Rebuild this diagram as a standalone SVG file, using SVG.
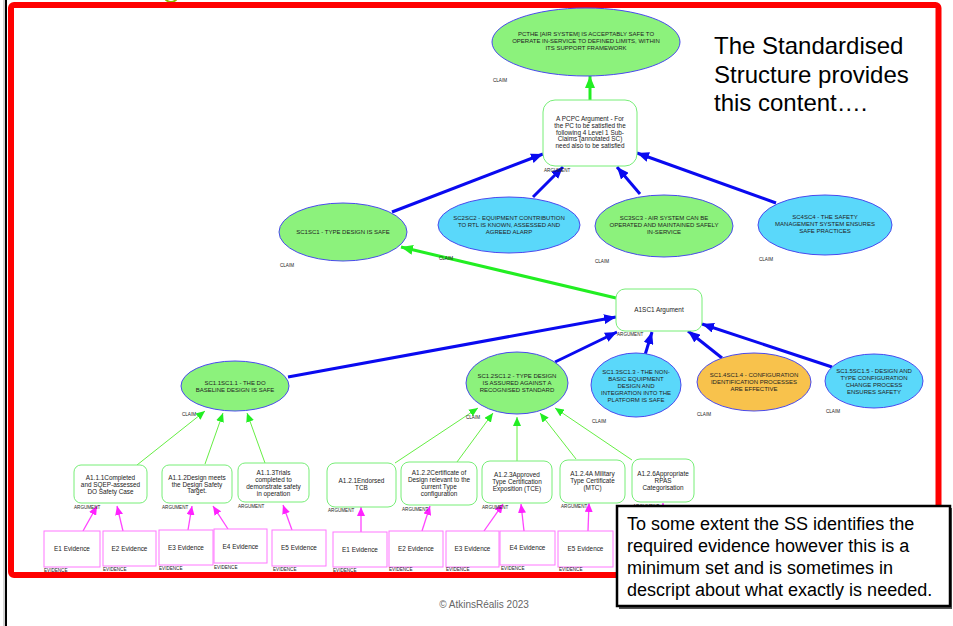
<svg xmlns="http://www.w3.org/2000/svg" width="953" height="626" viewBox="0 0 953 626">
  <defs>
    <style>
      .claim-g { fill: #8cf27c; stroke: #4a4aee; stroke-width: 1; }
      .claim-b { fill: #5ad8fa; stroke: #4a4aee; stroke-width: 1; }
      .claim-o { fill: #f8c24c; stroke: #4a4aee; stroke-width: 1; }
      .arg { fill: #ffffff; stroke: #77ee77; stroke-width: 1; }
      .ev { fill: #ffffff; stroke: #ff77ff; stroke-width: 1; }
      .t { font-family: "Liberation Sans", Arial, sans-serif; font-size: 6px; fill: #222; text-anchor: middle; }
      .ta { font-family: "Liberation Sans", Arial, sans-serif; font-size: 6.4px; fill: #222; text-anchor: middle; }
      .lbl { font-family: "Liberation Sans", Arial, sans-serif; font-size: 4.6px; fill: #222; }
      .big { font-family: "Liberation Sans", Arial, sans-serif; font-size: 24px; fill: #000; }
      .note { font-family: "Liberation Sans", Arial, sans-serif; font-size: 18px; fill: #000; }
      .blue { stroke: #0a0af0; stroke-width: 3; fill: none; marker-end: url(#hBlue); }
      .green { stroke: #22ee22; stroke-width: 3; fill: none; marker-end: url(#hGreen); }
      .gthin { stroke: #66ee44; stroke-width: 1; fill: none; marker-end: url(#hGreenThin); }
      .mag { stroke: #ff44ff; stroke-width: 1.3; fill: none; marker-end: url(#hMag); }
    </style>
    <marker id="hBlue" markerUnits="userSpaceOnUse" markerWidth="12" markerHeight="10" refX="12" refY="5" orient="auto">
      <path d="M0,0 L12,5 L0,10 z" fill="#0a0af0"/>
    </marker>
    <marker id="hGreen" markerUnits="userSpaceOnUse" markerWidth="12" markerHeight="10" refX="12" refY="5" orient="auto">
      <path d="M0,0 L12,5 L0,10 z" fill="#22ee22"/>
    </marker>
    <marker id="hGreenThin" markerUnits="userSpaceOnUse" markerWidth="9" markerHeight="8" refX="9" refY="4" orient="auto">
      <path d="M0,0 L9,4 L0,8 z" fill="#22ee22"/>
    </marker>
    <marker id="hMag" markerUnits="userSpaceOnUse" markerWidth="9" markerHeight="8" refX="9" refY="4" orient="auto">
      <path d="M0,0 L9,4 L0,8 z" fill="#ff22ff"/>
    </marker>
  </defs>

  <rect x="0" y="0" width="953" height="626" fill="#ffffff"/>

  <!-- slide edge and frame -->
  <line x1="4" y1="0" x2="4" y2="626" stroke="#aaaaaa" stroke-width="1"/>
  <line x1="6" y1="0" x2="6" y2="626" stroke="#000000" stroke-width="2"/>
  <ellipse cx="171" cy="-3" rx="6" ry="5" fill="none" stroke="#8db600" stroke-width="2"/>
  <rect x="11" y="5" width="927.5" height="570" rx="3" fill="none" stroke="#ff0000" stroke-width="6"/>

  <text class="big" x="714" y="54">The Standardised</text>
  <text class="big" x="714" y="83">Structure provides</text>
  <text class="big" x="714" y="111">this content….</text>

  <!-- connectors -->
  <g id="connectors">
    <line class="green" x1="590" y1="100" x2="590" y2="76"/>
    <line class="blue" x1="392" y1="212" x2="543" y2="154"/>
    <line class="blue" x1="533" y1="197" x2="563" y2="167"/>
    <line class="blue" x1="640" y1="194" x2="617" y2="167"/>
    <line class="blue" x1="776" y1="203" x2="637" y2="153"/>
    <line class="green" x1="616" y1="298" x2="401" y2="247"/>
    <line class="blue" x1="288" y1="377" x2="616" y2="317"/>
    <line class="blue" x1="555" y1="362" x2="617" y2="332"/>
    <line class="blue" x1="645" y1="355" x2="652" y2="332"/>
    <line class="blue" x1="722" y1="358" x2="688" y2="331"/>
    <line class="blue" x1="832" y1="367" x2="702" y2="324"/>
    <line class="gthin" x1="137" y1="465" x2="205" y2="411"/>
    <line class="gthin" x1="205" y1="464" x2="223" y2="413"/>
    <line class="gthin" x1="265" y1="463" x2="247" y2="413"/>
    <line class="gthin" x1="395" y1="463" x2="478" y2="408"/>
    <line class="gthin" x1="457" y1="462" x2="493" y2="413"/>
    <line class="gthin" x1="517" y1="461" x2="517" y2="417"/>
    <line class="gthin" x1="576" y1="459" x2="540" y2="413"/>
    <line class="gthin" x1="632" y1="460" x2="555" y2="408"/>
    <line class="mag" x1="83" y1="531" x2="97" y2="506"/>
    <line class="mag" x1="123" y1="531" x2="117" y2="506"/>
    <line class="mag" x1="188" y1="530" x2="192" y2="506"/>
    <line class="mag" x1="228" y1="529" x2="213" y2="506"/>
    <line class="mag" x1="292" y1="530" x2="283" y2="505"/>
    <line class="mag" x1="361" y1="532" x2="361" y2="507"/>
    <line class="mag" x1="422" y1="531" x2="430" y2="506"/>
    <line class="mag" x1="484" y1="531" x2="503" y2="504"/>
    <line class="mag" x1="524" y1="531" x2="521" y2="504"/>
    <line class="mag" x1="588" y1="531" x2="589" y2="503"/>
    <line class="mag" x1="663" y1="530" x2="663" y2="503"/>
  </g>

  <!-- top claim -->
  <g id="pcthe">
    <ellipse class="claim-g" cx="586" cy="42" rx="94" ry="34"/>
    <text class="t" x="586" y="36">PCTHE [AIR SYSTEM] IS ACCEPTABLY SAFE TO</text>
    <text class="t" x="586" y="43">OPERATE IN-SERVICE TO DEFINED LIMITS, WITHIN</text>
    <text class="t" x="586" y="50">ITS SUPPORT FRAMEWORK</text>
    <text class="lbl" x="493" y="82">CLAIM</text>
  </g>

  <g id="apcpc">
    <rect class="arg" x="543" y="100" width="94" height="66" rx="12"/>
    <text class="ta" x="590" y="121">A PCPC Argument - For</text>
    <text class="ta" x="590" y="128">the PC to be satisfied the</text>
    <text class="ta" x="590" y="134.5">following 4 Level 1 Sub-</text>
    <text class="ta" x="590" y="141">Claims  (annotated SC)</text>
    <text class="ta" x="590" y="147.5">need also to be satisfied</text>
    <text class="lbl" x="544" y="172">ARGUMENT</text>
  </g>

  <!-- level 1 claims -->
  <g id="sc1">
    <ellipse class="claim-g" cx="343" cy="232" rx="64" ry="29"/>
    <text class="t" x="343" y="234">SC1SC1 - TYPE DESIGN IS SAFE</text>
    <text class="lbl" x="280" y="267">CLAIM</text>
  </g>
  <g id="sc2">
    <ellipse class="claim-b" cx="509" cy="225" rx="71" ry="28"/>
    <text class="t" x="509" y="220">SC2SC2 - EQUIPMENT CONTRIBUTION</text>
    <text class="t" x="509" y="227">TO RTL IS KNOWN, ASSESSED AND</text>
    <text class="t" x="509" y="234">AGREED ALARP</text>
    <text class="lbl" x="439" y="260">CLAIM</text>
  </g>
  <g id="sc3">
    <ellipse class="claim-g" cx="664" cy="226" rx="69" ry="31"/>
    <text class="t" x="664" y="220">SC3SC3 - AIR SYSTEM CAN BE</text>
    <text class="t" x="664" y="227">OPERATED AND MAINTAINED SAFELY</text>
    <text class="t" x="664" y="234">IN-SERVICE</text>
    <text class="lbl" x="595" y="263">CLAIM</text>
  </g>
  <g id="sc4">
    <ellipse class="claim-b" cx="825" cy="225" rx="67" ry="30"/>
    <text class="t" x="825" y="219">SC4SC4 - THE SAFETY</text>
    <text class="t" x="825" y="226">MANAGEMENT SYSTEM ENSURES</text>
    <text class="t" x="825" y="233">SAFE PRACTICES</text>
    <text class="lbl" x="759" y="261">CLAIM</text>
  </g>

  <g id="a1sc1">
    <rect class="arg" x="616" y="289" width="86" height="42" rx="9"/>
    <text class="ta" x="659" y="312">A1SC1 Argument</text>
    <text class="lbl" x="617" y="336">ARGUMENT</text>
  </g>

  <!-- level 2 claims -->
  <g id="sc1-1">
    <ellipse class="claim-g" cx="235" cy="386" rx="54" ry="25"/>
    <text class="t" x="235" y="385">SC1.1SC1.1 - THE DO</text>
    <text class="t" x="235" y="392">BASELINE DESIGN IS SAFE</text>
    <text class="lbl" x="182" y="416">CLAIM</text>
  </g>
  <g id="sc1-2">
    <ellipse class="claim-g" cx="517" cy="383" rx="51" ry="31"/>
    <text class="t" x="517" y="378">SC1.2SC1.2 - TYPE DESIGN</text>
    <text class="t" x="517" y="385">IS ASSURED AGAINST A</text>
    <text class="t" x="517" y="392">RECOGNISED STANDARD</text>
    <text class="lbl" x="466" y="419">CLAIM</text>
  </g>
  <g id="sc1-3">
    <ellipse class="claim-b" cx="636" cy="385" rx="45" ry="32"/>
    <text class="t" x="636" y="374">SC1.3SC1.3 - THE NON-</text>
    <text class="t" x="636" y="381">BASIC EQUIPMENT</text>
    <text class="t" x="636" y="388">DESIGN AND</text>
    <text class="t" x="636" y="395">INTEGRATION INTO THE</text>
    <text class="t" x="636" y="402">PLATFORM IS SAFE</text>
    <text class="lbl" x="592" y="423">CLAIM</text>
  </g>
  <g id="sc1-4">
    <ellipse class="claim-o" cx="754" cy="382" rx="57" ry="29"/>
    <text class="t" x="754" y="377">SC1.4SC1.4 - CONFIGURATION</text>
    <text class="t" x="754" y="384">IDENTIFICATION PROCESSES</text>
    <text class="t" x="754" y="391">ARE EFFECTIVE</text>
    <text class="lbl" x="697" y="416">CLAIM</text>
  </g>
  <g id="sc1-5">
    <ellipse class="claim-b" cx="874" cy="381" rx="49" ry="27"/>
    <text class="t" x="874" y="373">SC1.5SC1.5 - DESIGN AND</text>
    <text class="t" x="874" y="380">TYPE CONFIGURATION</text>
    <text class="t" x="874" y="387">CHANGE PROCESS</text>
    <text class="t" x="874" y="394">ENSURES SAFETY</text>
    <text class="lbl" x="826" y="413">CLAIM</text>
  </g>

  <!-- arguments under SC1.1 -->
  <g id="a1-1-1">
    <rect class="arg" x="74" y="465" width="73" height="38" rx="7"/>
    <text class="ta" x="110.5" y="480">A1.1.1Completed</text>
    <text class="ta" x="110.5" y="486.5">and SQEP-assessed</text>
    <text class="ta" x="110.5" y="493.5">DO Safety Case</text>
    <text class="lbl" x="74" y="509">ARGUMENT</text>
  </g>
  <g id="a1-1-2">
    <rect class="arg" x="162" y="465" width="70" height="38" rx="7"/>
    <text class="ta" x="197" y="480">A1.1.2Design meets</text>
    <text class="ta" x="197" y="486.5">the Design Safety</text>
    <text class="ta" x="197" y="493">Target.</text>
    <text class="lbl" x="162" y="509">ARGUMENT</text>
  </g>
  <g id="a1-1-3">
    <rect class="arg" x="238" y="463" width="71" height="39" rx="7"/>
    <text class="ta" x="273.5" y="474.5">A1.1.3Trials</text>
    <text class="ta" x="273.5" y="481.5">completed to</text>
    <text class="ta" x="273.5" y="488.5">demonstrate safety</text>
    <text class="ta" x="273.5" y="495.5">in operation</text>
    <text class="lbl" x="238" y="508">ARGUMENT</text>
  </g>

  <!-- arguments under SC1.2 -->
  <g id="a1-2-1">
    <rect class="arg" x="327" y="463" width="69" height="44" rx="8"/>
    <text class="ta" x="361.5" y="483">A1.2.1Endorsed</text>
    <text class="ta" x="361.5" y="490">TCB</text>
    <text class="lbl" x="328" y="512">ARGUMENT</text>
  </g>
  <g id="a1-2-2">
    <rect class="arg" x="401" y="462" width="76" height="43" rx="8"/>
    <text class="ta" x="439" y="475">A1.2.2Certificate of</text>
    <text class="ta" x="439" y="482">Design relevant to the</text>
    <text class="ta" x="439" y="489">current Type</text>
    <text class="ta" x="439" y="496">configuration</text>
    <text class="lbl" x="402" y="511">ARGUMENT</text>
  </g>
  <g id="a1-2-3">
    <rect class="arg" x="482" y="461" width="70" height="42" rx="8"/>
    <text class="ta" x="517" y="477">A1.2.3Approved</text>
    <text class="ta" x="517" y="484">Type Certification</text>
    <text class="ta" x="517" y="491">Exposition (TCE)</text>
    <text class="lbl" x="482" y="509">ARGUMENT</text>
  </g>
  <g id="a1-2-4">
    <rect class="arg" x="560" y="460" width="65" height="43" rx="8"/>
    <text class="ta" x="592.5" y="476">A1.2.4A Military</text>
    <text class="ta" x="592.5" y="483">Type Certificate</text>
    <text class="ta" x="592.5" y="490">(MTC)</text>
    <text class="lbl" x="561" y="508">ARGUMENT</text>
  </g>
  <g id="a1-2-6">
    <rect class="arg" x="632" y="459" width="62" height="43" rx="8"/>
    <text class="ta" x="663" y="476">A1.2.6Appropriate</text>
    <text class="ta" x="663" y="483">RPAS</text>
    <text class="ta" x="663" y="490">Categorisation</text>
    <text class="lbl" x="633" y="508">ARGUMENT</text>
  </g>

  <!-- evidence, first group -->
  <g id="ev1-1">
    <rect class="ev" x="44" y="531" width="56" height="36"/>
    <text class="ta" x="72" y="551">E1 Evidence</text>
    <text class="lbl" x="44" y="572">EVIDENCE</text>
  </g>
  <g id="ev1-2">
    <rect class="ev" x="103" y="531" width="53" height="35"/>
    <text class="ta" x="129.5" y="550.5">E2 Evidence</text>
    <text class="lbl" x="103" y="571">EVIDENCE</text>
  </g>
  <g id="ev1-3">
    <rect class="ev" x="159" y="530" width="54" height="35"/>
    <text class="ta" x="186" y="550">E3 Evidence</text>
    <text class="lbl" x="159" y="570">EVIDENCE</text>
  </g>
  <g id="ev1-4">
    <rect class="ev" x="214" y="529" width="53" height="34"/>
    <text class="ta" x="240.5" y="549">E4 Evidence</text>
    <text class="lbl" x="214" y="569">EVIDENCE</text>
  </g>
  <g id="ev1-5">
    <rect class="ev" x="272" y="530" width="54" height="36"/>
    <text class="ta" x="299" y="550">E5 Evidence</text>
    <text class="lbl" x="273" y="571">EVIDENCE</text>
  </g>

  <!-- evidence, second group -->
  <g id="ev2-1">
    <rect class="ev" x="333" y="532" width="54" height="35"/>
    <text class="ta" x="360" y="552">E1 Evidence</text>
    <text class="lbl" x="333" y="572">EVIDENCE</text>
  </g>
  <g id="ev2-2">
    <rect class="ev" x="389" y="531" width="54" height="36"/>
    <text class="ta" x="416" y="551">E2 Evidence</text>
    <text class="lbl" x="389" y="571">EVIDENCE</text>
  </g>
  <g id="ev2-3">
    <rect class="ev" x="446" y="531" width="53" height="36"/>
    <text class="ta" x="472.5" y="551">E3 Evidence</text>
    <text class="lbl" x="446" y="571">EVIDENCE</text>
  </g>
  <g id="ev2-4">
    <rect class="ev" x="500" y="531" width="55" height="34"/>
    <text class="ta" x="527.5" y="550">E4 Evidence</text>
    <text class="lbl" x="501" y="570">EVIDENCE</text>
  </g>
  <g id="ev2-5">
    <rect class="ev" x="558" y="531" width="55" height="36"/>
    <text class="ta" x="585.5" y="551">E5 Evidence</text>
    <text class="lbl" x="559" y="571">EVIDENCE</text>
  </g>

  <!-- note box -->
  <g id="note">
    <rect x="619" y="508" width="333" height="101" fill="#555555"/>
    <rect x="617" y="506" width="333" height="100" fill="#ffffff" stroke="#000000" stroke-width="2.5"/>
    <text class="note" x="627" y="530">To some extent the SS identifies the</text>
    <text class="note" x="627" y="552">required evidence however this is a</text>
    <text class="note" x="627" y="574">minimum set and is sometimes in</text>
    <text class="note" x="627" y="596">descript about what exactly is needed.</text>
  </g>

  <text x="484" y="608" font-family="Liberation Sans, Arial, sans-serif" font-size="10" fill="#666666" text-anchor="middle">© AtkinsRéalis 2023</text>
</svg>
